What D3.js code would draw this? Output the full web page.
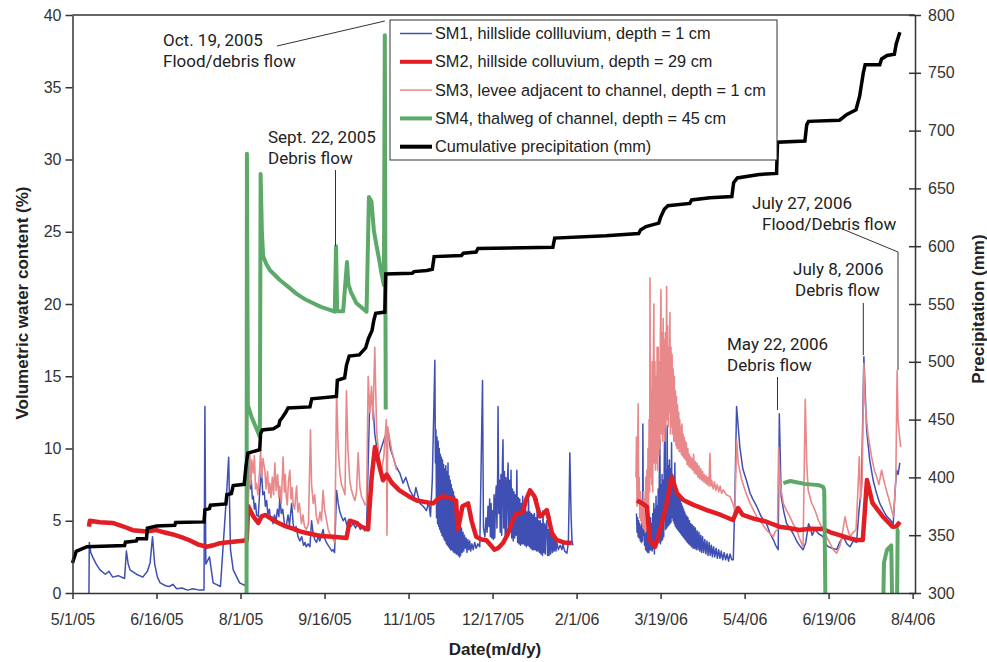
<!DOCTYPE html>
<html>
<head>
<meta charset="utf-8">
<script src="https://cdnjs.cloudflare.com/ajax/libs/d3/7.8.5/d3.min.js"></script>
<style>
body { margin: 0; background: #fff; }
svg { display: block; font-family: "Liberation Sans", Arial, sans-serif; }
</style>
</head>
<body>
<svg></svg>
<script>
// all series are [days since 5/1/05, value]; null = gap in the record
var sm1 = [[9,0],[9.2,3.5],[10,2.8],[11,2.5],[13,2.0],[15,1.6],[18,1.3],[20,1.5],[22,1.1],[25,1.2],[28.5,1.0],[29.5,2.9],[30.5,2.0],[31.5,1.6],[35,1.3],[38.5,1.1],[41,1.5],[42.5,2.1],[43.8,3.9],[45,2.0],[46.5,1.1],[48,0.7],[51,0.5],[53,0.45],[55,0.6],[57,0.3],[60,0.35],[63,0.2],[66,0.3],[69.5,0.2],[72,0.2],[72.5,12.9],[73,2.0],[75,2.5],[77,0.7],[81,0.45],[84.3,6.7],[85.5,9.4],[86.5,3.0],[88,1.6],[91.5,0.7],[94.8,0.5],
  [95.5,6.2],[96.2,8],[96.7,9.0],[97.3,7.2],[97.9,7.8],[98.5,6.5],[99,6.7],[99.6,5.8],[100.2,6.2],[100.8,5.4],[101.7,5.3],[102.6,7.2],[103.5,8.5],[104.2,6.8],[105,7.0],[105.6,6.0],[106.3,6.4],[107,5.4],[107.8,5.8],[108.6,5.0],[109.2,5.3],[109.8,4.8],[110.6,5.4],[111.4,4.9],[112.2,5.8],[113,5.3],[113.5,6.7],[114.3,5.5],[115.1,5.8],[116,4.8],[117,4.6],[118,5.4],[118.8,4.7],[119.4,5.5],[120,6.2],[120.8,4.8],[121.6,4.3],[122.4,4.6],[123.5,3.9],[124.5,3.6],[125.5,3.9],[126.5,3.3],[127.3,3.5],[128,3.2],[129,3.4],[130,3.2],[130.9,5.0],[131.7,4.2],[132.6,3.7],[133.6,3.5],[134.5,3.9],[135.4,3.6],[136.3,4.0],[137.2,4.4],[138,3.8],[139,3.5],[140,3.3],[141,3.1],[142,2.9],[142.7,3.0],[143.5,2.8],[144.6,7.1],[145.5,6.2],[146.4,5.6],[147.3,5.3],[148.2,5.0],[149.2,5.2],[150.2,4.7],[151.2,5.0],[152.3,4.6],[153.7,4.8],[155,4.5],[156.4,4.9],[157.5,4.4],[158.8,4.6],[160,4.3],[161,4.4],
  [162.8,13.6],[164.6,12.9],[165.5,11],[167.4,9.4],[169,10],[171,10.8],[172.7,11.3],[174,10],[175.6,9.4],[177,8.8],[179.2,8.3],[181,7.6],[182.5,8],[184.7,7.1],[187,6.6],[188,7.3],[190.2,6.2],[192,6.0],[193.8,5.7],[195,6.3],[196,5.3],[197,7.8],
  [198.4,16.1],[198.7,9],[199,11.3],[199.3,5.2],[199.6,10.8],[199.9,4.8],[200.2,10.5],[200.5,4.6],[200.8,10],[201.1,4.4],[201.4,9.6],[201.7,4.2],[202,9.4],[202.3,4],[202.6,9.2],[202.9,3.9],[203.2,8.9],[203.5,3.7],[203.8,8.6],[204.1,3.6],[204.4,8.8],[204.7,3.4],[205,8.4],[205.3,3.3],[205.6,9.0],[205.9,3.2],[206.2,8.1],[206.5,3.1],[206.8,7.8],[207.1,3.0],[207.4,7.5],[207.7,3.0],[208,7.2],[208.3,2.9],[208.6,7],[208.9,2.8],[209.2,6.7],[209.5,2.8],[209.8,6.4],[210.1,2.7],[210.4,6],[210.7,2.7],[211,5.7],[211.3,2.6],[211.6,5.4],[211.9,2.5],[212.2,5.0],[212.5,2.6],[213,4.5],[213.4,2.8],[213.8,4.2],[214.2,2.9],[214.6,4],[215,3.1],[215.5,3.8],[216,2.8],[216.5,3.7],[217,3.0],[217.5,3.6],[218,2.9],[218.7,3.4],[219.4,3.0],[220.2,3.5],[221,3.1],[222,3.4],[223,3.2],[224.5,14.7],[225,4.5],[225.8,3.9],[226.4,5.2],[227,4.2],[227.5,6],[228,4.6],
  [228.4,6.5],[228.8,3.9],[229.2,6.2],[229.6,3.8],[230,5.7],[230.4,3.7],[230.8,6.8],[231.2,3.8],[231.6,6.4],[232,7.4],[232.4,4.5],[232.8,8.5],[233,12.9],[233.4,5.5],[233.8,7.8],[234.2,4.2],[234.6,8.2],[235,4.0],[235.4,9],[235.7,10.6],[236.1,4.5],[236.5,8.4],[236.9,4.0],[237.3,8],[237.7,3.8],[238.1,7.5],[238.5,9],[238.9,4.0],[239.3,7.8],[239.7,4.2],[240.1,8.5],[240.5,3.8],[240.9,7.2],[241.3,3.6],[241.7,7],[242.1,3.8],[242.5,6.8],[242.9,4],[243.3,8.5],[243.7,3.5],[244.1,6.6],[244.5,3.4],[244.9,6.5],[245.3,3.3],[245.7,6.2],[246.1,3.4],[246.5,6.7],[246.9,3.4],[247.3,6],[247.7,3.3],[248.1,5.8],[248.5,3.2],[248.9,5.6],[249.3,3.3],[249.7,6.5],[250.1,3.2],[250.5,5.6],[250.9,3.1],[251.3,5.5],[251.7,3.0],[252.1,5.4],[252.5,3.0],[252.9,5.5],[253.3,3.0],[253.7,5.2],[254.1,2.9],[254.5,6.5],[254.9,2.9],[255.3,5.0],[255.7,2.8],[256.1,5],[256.5,2.7],[256.9,4.8],[257.3,2.6],[257.6,5.7],[258,2.8],[258.4,4.8],[258.8,2.7],[259.2,4.6],[259.7,5],[260.1,2.6],[260.5,4.4],[260.9,2.6],[261.4,5.3],[261.8,2.7],[262.3,4.2],[262.8,2.8],[263.2,4],[263.7,2.9],[264.2,3.8],[264.7,2.9],[265.2,3.5],[266,3.0],[267,3.3],[268,3.0],[268.5,3.4],[269.5,2.9],[270.7,2.75],[271.5,3.5],[272,7.1],[272.3,9.7],[273,5.3],[273.5,3.6],[274,3.3],
  [290,null],
  [308.8,5.5],[309.1,4.2],[309.4,5.2],[309.7,3.9],[310,5],[310.3,3.8],[310.6,4.8],[310.9,3.6],[311.2,4.6],[311.5,3.5],[311.8,5],[312.1,3.6],[312.3,11.7],[312.6,4],[312.9,4.6],[313.2,3.3],[313.5,4.4],[313.8,3.0],[314.1,4.2],[314.4,2.9],[314.7,4.5],[315,2.8],[315.3,4.2],[315.6,2.8],[315.9,4.5],[316.2,3.0],[316.5,5.2],[316.8,3.0],[317.1,4.8],[317.4,2.9],[317.7,5.5],[318,3.1],[318.3,6.2],[318.6,2.7],[318.9,5.8],[319.2,3.2],[319.5,6.7],[319.8,3.3],[320.1,6],[320.4,3.5],[320.7,7.2],[321,3.5],[321.3,8],[321.6,10.6],[321.9,3.4],[322.2,7.5],[322.5,3.6],[322.8,8.2],[323.1,3.7],[323.4,7.8],[323.7,3.9],[324,9],[324.4,14.2],[324.7,4.4],[325,8.5],[325.3,4.5],[325.6,11.6],[325.9,4.6],[326.2,8.8],[326.5,4.7],[326.8,9.2],[327.1,4.8],[327.4,8.6],[327.7,4.9],[328,10.4],[328.3,5.2],[328.6,8.2],[328.9,5.0],[329.2,7.8],[329.5,4.8],[329.8,9.0],[330.1,4.6],[330.4,7.4],[330.7,4.5],[331,7.2],[331.3,4.4],[331.6,6.9],[331.9,4.3],[332.2,6.6],[332.5,4.2],[332.8,6.4],[333.1,4.1],[333.4,6.2],[333.7,4.0],[334,6.0],[334.3,3.9],[334.6,5.8],[334.9,3.8],[335.2,5.6],[335.5,3.7],[335.8,5.4],[336.1,3.6],[336.4,5.3],[336.7,3.5],[337,5.2],[337.4,3.4],[337.8,5.0],[338.2,3.3],[338.6,4.8],[339,3.2],[339.4,4.7],[339.8,3.1],[340.2,4.6],[340.6,3.1],[341,4.5],[341.5,3.0],[342,4.3],[342.5,3.0],[343,4.2],[343.5,2.9],[344,4.0],[344.5,2.8],[345,3.9],[345.6,2.8],[346.2,3.7],[346.8,2.7],[347.4,3.6],[348,2.6],[348.6,3.5],[349.2,2.6],[349.8,3.3],[350.4,2.5],[351,3.2],[351.7,2.5],[352.4,3.1],[353.1,2.4],[353.8,3.0],[354.5,2.4],[355.2,2.9],[356,2.3],[356.8,2.8],[357.6,2.3],[358.4,2.7],[359.2,2.2],[360,2.7],[361,2.3],[361.8,2.3],
  [362.7,6.7],[363.6,12.9],[365.4,10.1],[367,8.6],[369,7.8],[371,6.9],[372.5,6.5],[374.6,6.0],[377,5.3],[380,4.8],[382,4.1],[383.7,3.7],[385,3.3],[386.4,3.0],[387,12.4],[388,6.7],[389.5,5.6],[391,4.8],[392.8,4.5],[394.6,4.1],[396.5,3.6],[398,3.3],[400,3.0],[401.5,3.5],[403,4.8],[404,4.5],[405,4.0],[406.5,4.4],[408.5,4.1],[411,3.9],[412.5,3.4],[413.8,3.2],[416,3.1],[418.4,3.0],[420,3.5],[422,3.9],[424,3.4],[425.7,3.2],[427.5,3.6],[429.3,3.5],[430.5,5.5],[432,7.4],[433.3,16.35],[434.8,11.3],[436.5,9.2],[438.4,7.8],[440,7.0],[442,6.2],[444,5.7],[445.8,5.3],[447.5,5.1],[449.4,4.8],[450.3,6.9],[451.2,8.5],[452,8.2],[453,9.0]];

var sm2 = [[9,4.6],[9.5,5.0],[15,4.9],[22,4.85],[28,4.6],[33,4.35],[40.5,4.25],[43,4.3],[46,4.35],[50,4.2],[55,4.05],[60,3.85],[64,3.65],[69,3.35],[73.5,3.2],[77,3.3],[80.7,3.45],[84,3.5],[88,3.55],[92,3.6],[95.4,3.65],[96.2,6.0],[99,5.3],[101.7,4.85],[103.5,5.3],[105.5,5.4],[108,5.2],[112,4.9],[116,4.65],[120.7,4.45],[125,4.25],[130,4.1],[136,3.95],[142.6,3.9],[150,3.8],[151.8,5.0],[155.5,4.85],[158,4.6],[161.8,4.4],[163.8,8.0],[165.6,10.1],[168,8.8],[170,7.8],[172,8.2],[175,7.6],[179,7.1],[184,6.7],[188.5,6.4],[193,6.3],[197.4,6.2],[200,6.5],[203,6.7],[206,6.6],[210,6.4],[211,4.4],[212,5.0],[213.5,6.0],[216.6,6.2],[218.5,5.0],[221,3.9],[224,3.7],[226.6,3.65],[229,3.3],[231,3.0],[233,3.1],[235.7,3.46],[238,4.0],[241,5.0],[243,5.5],[246.6,5.6],[248.5,6.5],[250.5,7.1],[253,6.67],[256,5.3],[258,5.5],[259.7,5.74],[262.5,4.15],[265,3.67],[269,3.5],[273.4,3.46],
  [290,null],
  [309,6.4],[312,6.2],[314.5,5.97],[316,3.67],[319,3.2],[321.7,4.36],[325.4,6.2],[328,8.05],[331,6.9],[334.4,6.44],[340,6.1],[347.3,5.74],[355,5.4],[361.6,5.05],[364.4,5.88],[367,5.4],[373,5.15],[380,4.93],[387,4.59],[392,4.5],[398,4.36],[404,4.45],[410.9,4.43],[415,4.2],[420,4.01],[425,3.8],[429.5,3.67],[432.7,3.67],[435,7.82],[438,6.23],[443.7,5.28],[449,4.59],[451,4.6],[453,4.93]];

var sm3 = [[95.5,5.0],[96.2,6.0],[97.1,9.7],[97.6,7.5],[98.2,9.2],[99,8.3],[99.6,9.5],[100.2,7.2],[100.7,7.6],[101.5,6.8],[102.3,8.2],[103,9.9],[103.6,8],[104.3,9.3],[105.3,8.5],[106,7.2],[106.8,8.4],[107.5,6.9],[108,7.6],[108.7,6.6],[109.4,8],[110.1,6.8],[110.8,9.0],[111.5,7.1],[112.3,8.2],[113,6.6],[113.5,7.4],[114.3,6.2],[115.3,9.4],[116,7],[116.5,8.2],[117,6.7],[117.6,6.1],[118.3,7.8],[119,8.5],[119.6,6.5],[120.2,7.3],[120.8,6.2],[121.6,5.8],[122.7,7.4],[123.4,5.6],[124.2,6.2],[125.4,4.8],[126.2,5.4],[127,4.6],[128,4.4],[129.2,4.8],[130.3,11.3],[130.9,7.5],[131.8,6.2],[132.6,6.8],[133.5,5.3],[134.5,4.8],[135.5,5.6],[136.3,5.0],[137.2,7.1],[138,5.8],[139,5.1],[140,4.4],[141.2,4.0],[142.4,3.8],[143.6,3.5],[144.6,14.0],[145.5,10],[146.4,8.3],[147.3,7.5],[148.2,7.2],[149.2,6.8],[150,14.0],[150.8,10],[151.8,7.8],[152.6,7.2],[153.7,6.7],[154.6,6.4],[155.5,7],[156.4,9.7],[157.3,7.4],[158.2,6.7],[159.3,6.4],[160.2,6.1],[161,6.2],[161.9,15.0],[162.8,12.5],[163.7,14.3],[164.5,12],[165.5,17.0],[166.5,11.3],[167.7,9.5],[169,8.3],[170.5,9.5],[171.8,12.0],[172.2,4.0],[172.6,11.5],[174.7,9.9],[177.4,8.5],
  [290,null],
  [308.5,8],[308.8,10.8],[309.1,6],[309.4,9],[309.7,13.1],[310,6.5],[310.3,8],[310.6,5.2],[310.9,7],[311.2,5.0],[311.5,6.5],[311.8,4.8],[312.1,6],[312.4,4.5],[312.7,7],[313,4.4],[313.3,6.5],[313.6,4.2],[313.9,8],[314.2,4.6],[314.5,8.5],[314.8,4.5],[315.1,10],[315.4,5],[315.7,12],[316,7],[316.2,21.8],[316.5,8],[316.8,14],[317.1,7.5],[317.4,16],[317.7,7],[318,15],[318.3,20.0],[318.6,9],[318.9,16],[319.2,8.5],[319.5,15],[319.8,9],[320.1,17],[320.4,8.5],[320.7,17],[321,9.5],[321.3,16],[321.6,10],[321.9,18],[322.2,21.0],[322.5,11],[322.8,18],[323.1,10.5],[323.4,19],[323.7,11],[324,17.5],[324.3,10.5],[324.6,18],[324.9,11.5],[325.3,21.2],[325.6,12],[325.9,18.5],[326.2,11.5],[326.5,17],[326.8,12.5],[327.1,19.4],[327.4,11],[327.7,17],[328,11.5],[328.3,16.5],[328.6,11],[328.9,15.5],[329.2,10.5],[329.5,15],[329.8,10.5],[330.1,14],[330.4,10.2],[330.7,13.6],[331,10],[331.3,13],[331.6,10],[331.9,12.5],[332.2,9.8],[332.5,12],[332.8,9.8],[333.1,11.5],[333.4,9.6],[333.7,11.7],[334,9.5],[334.3,11],[334.6,9.4],[334.9,10.8],[335.2,9.3],[335.5,10.5],[335.8,9.2],[336.1,10.4],[336.5,8.9],[336.9,10],[337.3,8.8],[337.7,9.6],[338.1,8.7],[338.5,9.4],[338.9,8.6],[339.3,9.3],[339.7,8.5],[340.1,9.6],[340.5,8.3],[341,9.1],[341.5,8.2],[342,9.0],[342.5,8.0],[343,8.8],[343.5,7.9],[344,8.6],[344.5,7.8],[345,8.4],[345.5,7.7],[346,8.2],[346.5,7.6],[347,8.1],[347.5,7.5],[348,8.0],[348.5,7.4],[349,9.67],[349.5,7.4],[350,7.8],[350.8,7.2],[351.5,7.7],[352.2,7.1],[353,7.5],[353.8,7.0],[354.6,7.4],[355.4,6.9],[356.3,7.13],[358,6.8],[360,6.67],[361.5,6.2],[362.7,5.74],[363.6,10.6],[364.5,9],[366.4,7.82],[368.5,7.0],[371,6.2],[373,5.7],[374.6,5.28],[377,4.9],[380,4.36],[382,4.1],[383.7,3.9],[385,4.3],[386,4.36],[386.6,10.1],[387.5,7.5],[389.2,6.2],[391,5.7],[392.8,5.28],[394.5,4.8],[396.5,4.36],[398,3.8],[400,3.2],[401.2,13.4],[402,9],[402.8,7.13],[404.5,6.3],[406.5,5.74],[408.5,5.0],[411,4.36],[412.8,3.9],[414.7,3.46],[416.5,3.0],[418.4,2.75],[420,3.2],[421,3.67],[422,4.5],[423,5.28],[424,4.6],[425.7,3.9],[427.5,4.2],[429,4.36],[430,7],[430.8,9.43],[431.5,6.5],[432.3,7.6],[433.3,15.9],[434,13.1],[435.5,11],[437.5,9.43],[439,8.5],[440.3,8.05],[441.5,7.5],[443,8.5],[444.8,7.5],[446.6,6.67],[448,6],[449.4,5.28],[450.2,6.5],[450.8,8.05],[451.5,15.4],[452,12],[452.5,11.3],[453.4,10.1]];

var sm4 = [[95.3,0],[95.5,30.4],[96,13.0],[98,12.2],[100,11.6],[102.6,10.8],[103,29.0],[103.7,25],[104.4,23.3],[106,22.8],[108,22.35],[113.5,21.66],[118,21.2],[122.7,20.7],[127,20.35],[131.8,20.05],[136,19.8],[140.9,19.6],[143.6,19.47],[144.3,24.0],[144.9,19.5],[148.2,19.5],[150.3,22.9],[151,21.4],[152.5,20.8],[155.5,20.05],[161,19.47],[162.3,27.4],[163.7,27.1],[165,25.1],[166.5,24.0],[168,23.0],[169.2,22.1],[170.5,21.3],[171,38.6],[171.5,12.7],
  [290,null],
  [389.2,7.6],[393,7.75],[397,7.65],[401,7.55],[405.6,7.5],[409,7.45],[411,7.35],[411.6,7.1],[412.2,0],
  [430,null],
  [444,0],[444.3,2.1],[446,3.0],[448.3,3.3],[448.7,0],
  [450,null],
  [451.5,0],[451.8,4.4],[452.5,4.4]];

var precip = [[0,326],[2,336],[8,340],[28.5,341],[29,344],[35,345],[35.5,347],[40.5,347],[41,356],[46,358],[56,358.5],[56.5,361],[72,361.5],[72.5,372],[75,373],[75.5,376],[84,377],[84.5,385],[87,386],[88,393],[94,394],[95,410],[96,421],[102.5,424],[103,438],[104,441],[110,442],[113,445],[113.5,449],[115,452],[117,457],[118,460],[130,461],[131,468],[144.5,470],[145,484],[149,486],[150,497],[151.5,505],[157,506],[160.5,512],[162,520],[164,527],[165,536],[166,542],[171,543],[171.5,576],[186,576.5],[187,578],[194,579],[197,580],[198,591],[213,592],[214,594],[221,595],[222,598],[263,599],[264,607],[292,609],[310,611],[311,614],[314,617],[321,620],[322,625],[324,632],[326,635],[338,637],[339,640],[349,642],[361,643],[362,655],[364,659],[376,662],[385.5,663],[386,690],[401,691],[402,705],[403,708],[420,709],[424,714],[429,718],[431,730],[433,750],[434,757],[442,757],[443,762],[446,765],[450,766],[451,775],[453,785]];

var tickLabels = ["5/1/05","6/16/05","8/1/05","9/16/05","11/1/05","12/17/05","2/1/06","3/19/06","5/4/06","6/19/06","8/4/06"];
var leftTicks = [0,5,10,15,20,25,30,35,40];
var rightTicks = [300,350,400,450,500,550,600,650,700,750,800];

var legendNames = ["SM1, hillslide collluvium, depth = 1 cm",
                   "SM2, hillside colluvium, depth = 29 cm",
                   "SM3, levee adjacent to channel, depth = 1 cm",
                   "SM4, thalweg of channel, depth = 45 cm",
                   "Cumulative precipitation (mm)"];

// event day (since 5/1/05) and two text lines
var events = [[171, "Oct. 19, 2005", "Flood/debris flow"],
              [144, "Sept. 22, 2005", "Debris flow"],
              [386, "May 22, 2006", "Debris flow"],
              [433, "July 8, 2006", "Debris flow"],
              [452, "July 27, 2006", "Flood/Debris flow"]];

var screen = {width: 987, height: 662};
var margins = {top: 15, right: 72, left: 72.5, bottom: 69};

var t0 = Date.UTC(2005, 4, 1);
var toDate = function(d) { return new Date(t0 + d * 864e5); };

var svg = d3.select("svg")
    .attr("width", screen.width)
    .attr("height", screen.height);

var plotBottom = screen.height - margins.bottom;
var plotRight = screen.width - margins.right;

var xScale = d3.scaleUtc()
    .domain([new Date(t0), new Date(Date.UTC(2006, 7, 5, 7))])
    .range([margins.left, plotRight]);
var yLeft = d3.scaleLinear().domain([0, 40]).range([plotBottom, margins.top]);
var yRight = d3.scaleLinear().domain([300, 800]).range([plotBottom, margins.top]);

var lineLeft = d3.line()
    .defined(function(d) { return d[1] != null; })
    .x(function(d) { return xScale(toDate(d[0])); })
    .y(function(d) { return yLeft(d[1]); });
var lineRight = d3.line()
    .x(function(d) { return xScale(toDate(d[0])); })
    .y(function(d) { return yRight(d[1]); });

var series = [
    {data: sm1, color: "#3f4fb3", width: 1.5},
    {data: sm3, color: "#e8888a", width: 1.6},
    {data: sm2, color: "#e21d24", width: 4.5},
    {data: sm4, color: "#5ca96a", width: 4}
];

svg.append("g").selectAll("path")
    .data(series)
    .enter()
    .append("path")
    .attr("fill", "none")
    .attr("stroke", function(s) { return s.color; })
    .attr("stroke-width", function(s) { return s.width; })
    .attr("stroke-linejoin", "round")
    .attr("d", function(s) { return lineLeft(s.data); });

svg.append("path")
    .datum(precip)
    .attr("fill", "none")
    .attr("stroke", "#000")
    .attr("stroke-width", 3.5)
    .attr("d", lineRight);

// axes
var styleAxis = function(g) {
    g.selectAll("path, line").attr("stroke", "#333").attr("stroke-width", 1.5);
    g.selectAll("text")
        .attr("font-size", 16)
        .attr("font-family", "Liberation Sans, Arial, sans-serif")
        .attr("fill", "#333");
};

var tickDates = tickLabels.map(d3.utcParse("%m/%d/%y"));
var xAxis = d3.axisBottom(xScale)
    .tickValues(tickDates)
    .tickFormat(function(d, i) { return tickLabels[i]; })
    .tickSize(6).tickSizeOuter(0).tickPadding(15);
svg.append("g")
    .attr("transform", "translate(0," + plotBottom + ")")
    .call(xAxis)
    .call(styleAxis);

var yAxis = d3.axisLeft(yLeft).tickValues(leftTicks).tickSize(7).tickSizeOuter(0).tickPadding(4);
svg.append("g")
    .attr("transform", "translate(" + margins.left + ",0)")
    .call(yAxis)
    .call(styleAxis);

var y2Axis = d3.axisRight(yRight).tickValues(rightTicks).tickSize(6).tickSizeOuter(0).tickPadding(7);
svg.append("g")
    .attr("transform", "translate(" + plotRight + ",0)")
    .call(y2Axis)
    .call(styleAxis)
    .selectAll(".tick line").attr("x1", -6);

svg.append("line")
    .attr("x1", margins.left).attr("x2", plotRight)
    .attr("y1", margins.top).attr("y2", margins.top)
    .attr("stroke", "#333").attr("stroke-width", 1.5);

svg.append("text")
    .attr("transform", "translate(28,303) rotate(-90)")
    .attr("text-anchor", "middle")
    .attr("font-size", 17).attr("font-weight", "bold").attr("fill", "#222")
    .text("Volumetric water content (%)");

svg.append("text")
    .attr("transform", "translate(984,309) rotate(-90)")
    .attr("text-anchor", "middle")
    .attr("font-size", 17).attr("font-weight", "bold").attr("fill", "#222")
    .text("Precipitation (mm)");

svg.append("text")
    .attr("x", 495).attr("y", 655)
    .attr("text-anchor", "middle")
    .attr("font-size", 17).attr("font-weight", "bold").attr("fill", "#222")
    .text("Date(m/d/y)");

// annotations: text position and leader path for each event
var noteLayout = [
    {tx: 163, ty: 46, tx2: 163, lead: [[277, 46], ["x", 21]]},
    {tx: 268, ty: 143, tx2: 268, lead: [["x", 170], ["x", 246]]},
    {tx: 727, ty: 350, tx2: 727, lead: [["x", 377], ["x", 410]]},
    {tx: 793, ty: 275, tx2: 795, lead: [["x", 303], ["x", 355]]},
    {tx: 752, ty: 209, tx2: 762, lead: [[840, 228], ["x", 252], ["x", 370]]}
];

var notes = svg.append("g");
events.forEach(function(ev, i) {
    var lay = noteLayout[i];
    var ex = xScale(toDate(ev[0]));
    var pts = lay.lead.map(function(p) { return [p[0] === "x" ? ex : p[0], p[1]]; });
    notes.append("path")
        .attr("d", d3.line()(pts))
        .attr("fill", "none")
        .attr("stroke", "#333")
        .attr("stroke-width", 1);
    notes.append("text")
        .attr("x", lay.tx).attr("y", lay.ty)
        .attr("font-family", "Roboto, 'Noto Sans', sans-serif")
        .attr("font-size", 17).attr("fill", "#222")
        .text(ev[1]);
    notes.append("text")
        .attr("x", lay.tx2).attr("y", lay.ty + 21)
        .attr("font-family", "Roboto, 'Noto Sans', sans-serif")
        .attr("font-size", 17).attr("fill", "#222")
        .text(ev[2]);
});

// legend
var legendStyle = [
    {color: "#3f4fb3", width: 1.5},
    {color: "#e21d24", width: 4},
    {color: "#e8888a", width: 1.5},
    {color: "#5ca96a", width: 4},
    {color: "#000", width: 4}
];
var legend = svg.append("g");
legend.append("rect")
    .attr("x", 390).attr("y", 20)
    .attr("width", 387).attr("height", 140)
    .attr("fill", "#fff").attr("stroke", "#333").attr("stroke-width", 1);

var rows = legend.selectAll("g.row")
    .data(legendNames)
    .enter()
    .append("g")
    .attr("class", "row")
    .attr("transform", function(d, i) { return "translate(0," + (33.5 + i * 28.3) + ")"; });
rows.append("line")
    .attr("x1", 400).attr("x2", 432)
    .attr("stroke", function(d, i) { return legendStyle[i].color; })
    .attr("stroke-width", function(d, i) { return legendStyle[i].width; });
rows.append("text")
    .attr("x", 435).attr("y", 5.5)
    .attr("font-size", 16.3).attr("fill", "#222")
    .text(function(d) { return d; });
</script>
</body>
</html>
